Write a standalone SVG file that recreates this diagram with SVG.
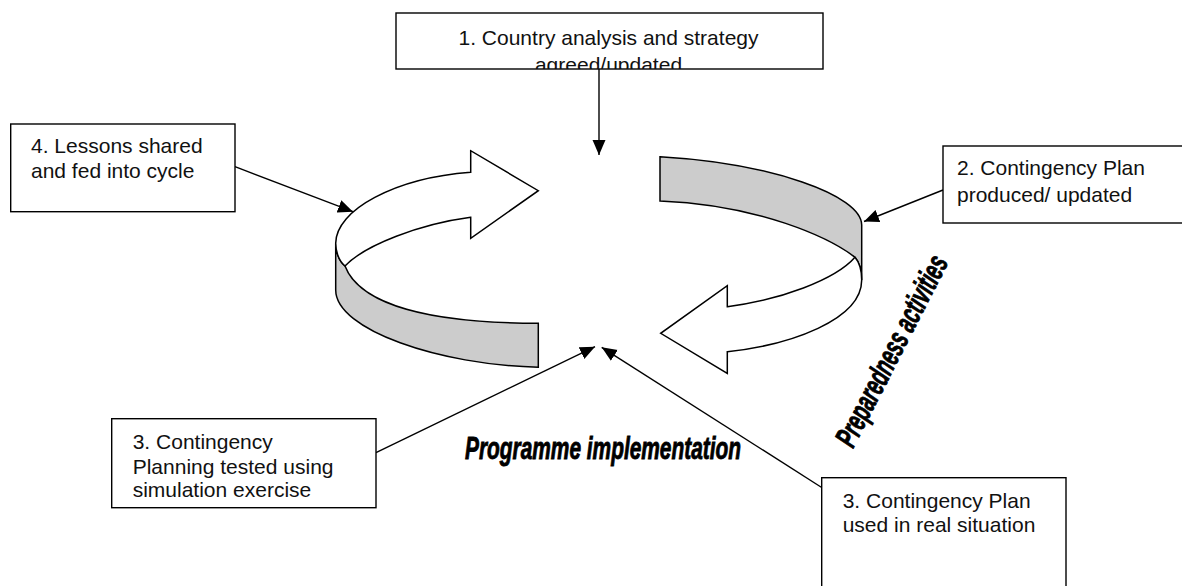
<svg xmlns="http://www.w3.org/2000/svg" width="1182" height="586" viewBox="0 0 1182 586">
<style>
.box{fill:#fff;stroke:#000;stroke-width:1.4}
.t{font-family:"Liberation Sans",Arial,sans-serif;font-size:21px;fill:#111}
.wa{font-family:"Liberation Sans",Arial,sans-serif;font-weight:bold;font-style:italic;fill:#000;stroke:#000;stroke-width:0.9}
.conn{fill:none;stroke:#000;stroke-width:1.4}
.face{fill:#fff;stroke:#000;stroke-width:1.5;stroke-linejoin:miter}
.side{fill:#cccccc;stroke:#000;stroke-width:1.5}
</style>
<defs>
<marker id="ah" markerUnits="userSpaceOnUse" markerWidth="16" markerHeight="14" refX="15" refY="6.5" orient="auto">
<path d="M0,0 L15,6.5 L0,13 Z" fill="#000"/>
</marker>
<clipPath id="c1"><rect x="396" y="13" width="427" height="56"/></clipPath>
</defs>
<rect width="1182" height="586" fill="#fff"/>

<g id="cycle">
<path class="side" d="M335.7,243.3 C335.7,250 338,260 345,266 C360,305 430,323 538.3,323.3 L538.3,367.3 C440,365 335.7,330 335.7,290 Z"/>
<path class="face" d="M470.7,172.3 L470.7,150.7 L538.3,190.7 L470.7,238.3 L470.7,217.3 C420,224 365,245 345,266 C338,260 335.7,250 335.7,243.3 C335.7,210 395,178 470.7,172.3 Z"/>
<path class="side" d="M660,156.7 C770,163 861.7,195 861.7,225 L861.7,280 C861.7,270 859,262 855,257.3 C830,238 760,205 660,201 Z"/>
<path class="face" d="M855,257.3 C835,280 780,300 727.3,306.7 L727.3,285.7 L660.7,333.3 L727.3,373.3 L727.3,351.7 C790,345 861.7,320 861.7,280 C861.7,270 859,262 855,257.3 Z"/>
</g>

<g id="connectors">
<line class="conn" x1="599" y1="69" x2="599" y2="155" marker-end="url(#ah)"/>
<line class="conn" x1="235" y1="166.7" x2="353" y2="211.7" marker-end="url(#ah)"/>
<line class="conn" x1="943" y1="190" x2="864" y2="221.5" marker-end="url(#ah)"/>
<line class="conn" x1="376" y1="452.7" x2="595" y2="346.7" marker-end="url(#ah)"/>
<line class="conn" x1="821.7" y1="487.5" x2="601.7" y2="347.3" marker-end="url(#ah)"/>
</g>

<g id="node1">
<rect class="box" x="396" y="13" width="427" height="56"/>
<g clip-path="url(#c1)">
<text class="t" x="608.5" y="45" text-anchor="middle">1. Country analysis and strategy</text>
<text class="t" x="608.5" y="72" text-anchor="middle">agreed/updated</text>
</g>
</g>

<g id="node2">
<rect class="box" x="943" y="146" width="250" height="77"/>
<text class="t" x="957" y="175">2. Contingency Plan</text>
<text class="t" x="957" y="202">produced/ updated</text>
</g>

<g id="node3a">
<rect class="box" x="111.7" y="418.7" width="264.3" height="89"/>
<text class="t" x="132.7" y="449">3. Contingency</text>
<text class="t" x="132.7" y="474">Planning tested using</text>
<text class="t" x="132.7" y="497">simulation exercise</text>
</g>

<g id="node3b">
<rect class="box" x="821.7" y="477.7" width="244.3" height="120"/>
<text class="t" x="842.7" y="508.3">3. Contingency Plan</text>
<text class="t" x="842.7" y="532.3">used in real situation</text>
</g>

<g id="node4">
<rect class="box" x="10.7" y="124" width="224.3" height="87.7"/>
<text class="t" x="31" y="153">4. Lessons shared</text>
<text class="t" x="31" y="178">and fed into cycle</text>
</g>

<g id="label-programme">
<text class="wa" x="465" y="459" font-size="32" textLength="276" lengthAdjust="spacingAndGlyphs">Programme implementation</text>
</g>
<g id="label-preparedness">
<text class="wa" font-size="31" textLength="210" lengthAdjust="spacingAndGlyphs" transform="translate(853,449) rotate(-62.9)">Preparedness activities</text>
</g>
</svg>
